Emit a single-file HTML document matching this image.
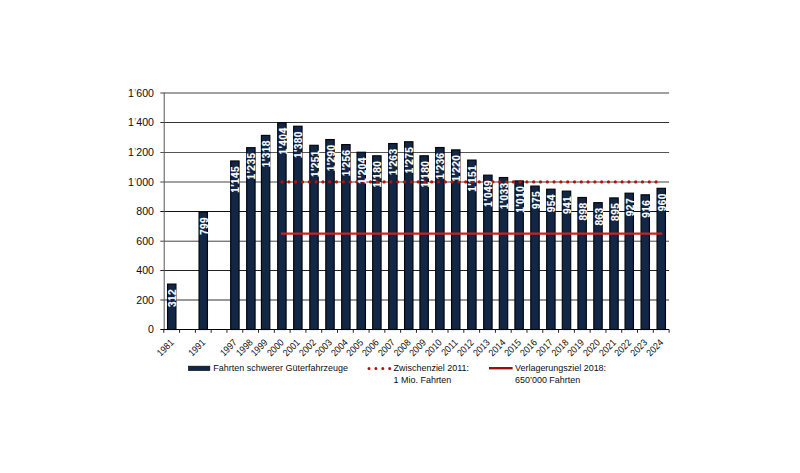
<!DOCTYPE html><html><head><meta charset="utf-8"><title>Fahrten schwerer Güterfahrzeuge</title><style>html,body{margin:0;padding:0;background:#fff;overflow:hidden;}svg{display:block;}text{font-family:"Liberation Sans",Arial,sans-serif;}</style></head><body>
<svg width="800" height="473" viewBox="0 0 800 473">
<rect width="800" height="473" fill="#fff"/>
<line x1="160.3" y1="300.00" x2="669.10" y2="300.00" stroke="#333" stroke-width="1"/>
<line x1="160.3" y1="270.50" x2="669.10" y2="270.50" stroke="#222" stroke-width="1"/>
<line x1="160.3" y1="241.20" x2="669.10" y2="241.20" stroke="#444" stroke-width="1"/>
<line x1="160.3" y1="211.50" x2="669.10" y2="211.50" stroke="#111" stroke-width="1"/>
<line x1="160.3" y1="182.00" x2="669.10" y2="182.00" stroke="#444" stroke-width="1"/>
<line x1="160.3" y1="152.50" x2="669.10" y2="152.50" stroke="#555" stroke-width="1"/>
<line x1="160.3" y1="122.50" x2="669.10" y2="122.50" stroke="#333" stroke-width="1"/>
<line x1="160.3" y1="93.00" x2="669.10" y2="93.00" stroke="#444" stroke-width="1"/>
<text x="154" y="333.10" font-size="10.6" text-anchor="end" fill="#0d0d0d">0</text>
<text x="154" y="303.60" font-size="10.6" text-anchor="end" fill="#0d0d0d">200</text>
<text x="154" y="274.10" font-size="10.6" text-anchor="end" fill="#0d0d0d">400</text>
<text x="154" y="244.80" font-size="10.6" text-anchor="end" fill="#0d0d0d">600</text>
<text x="154" y="215.10" font-size="10.6" text-anchor="end" fill="#0d0d0d">800</text>
<text x="154" y="185.60" font-size="10.6" text-anchor="end" fill="#0d0d0d">1<tspan fill="#8a8a8a">’</tspan>000</text>
<text x="154" y="156.10" font-size="10.6" text-anchor="end" fill="#0d0d0d">1<tspan fill="#8a8a8a">’</tspan>200</text>
<text x="154" y="126.10" font-size="10.6" text-anchor="end" fill="#0d0d0d">1<tspan fill="#8a8a8a">’</tspan>400</text>
<text x="154" y="96.60" font-size="10.6" text-anchor="end" fill="#0d0d0d">1<tspan fill="#8a8a8a">’</tspan>600</text>
<rect x="167.55" y="284.09" width="8.4" height="45.41" fill="#122646" stroke="#020408" stroke-width="1.15"/>
<rect x="199.05" y="212.11" width="8.4" height="117.39" fill="#122646" stroke="#020408" stroke-width="1.15"/>
<rect x="230.68" y="160.97" width="8.4" height="168.53" fill="#122646" stroke="#020408" stroke-width="1.15"/>
<rect x="246.68" y="147.67" width="8.4" height="181.83" fill="#122646" stroke="#020408" stroke-width="1.15"/>
<rect x="261.43" y="135.40" width="8.4" height="194.10" fill="#122646" stroke="#020408" stroke-width="1.15"/>
<rect x="277.70" y="122.69" width="8.4" height="206.81" fill="#122646" stroke="#020408" stroke-width="1.15"/>
<rect x="293.65" y="126.24" width="8.4" height="203.26" fill="#122646" stroke="#020408" stroke-width="1.15"/>
<rect x="309.80" y="145.30" width="8.4" height="184.20" fill="#122646" stroke="#020408" stroke-width="1.15"/>
<rect x="325.80" y="139.54" width="8.4" height="189.96" fill="#122646" stroke="#020408" stroke-width="1.15"/>
<rect x="341.68" y="144.56" width="8.4" height="184.94" fill="#122646" stroke="#020408" stroke-width="1.15"/>
<rect x="357.05" y="152.25" width="8.4" height="177.25" fill="#122646" stroke="#020408" stroke-width="1.15"/>
<rect x="372.68" y="155.80" width="8.4" height="173.70" fill="#122646" stroke="#020408" stroke-width="1.15"/>
<rect x="388.68" y="143.53" width="8.4" height="185.97" fill="#122646" stroke="#020408" stroke-width="1.15"/>
<rect x="404.55" y="141.75" width="8.4" height="187.75" fill="#122646" stroke="#020408" stroke-width="1.15"/>
<rect x="419.93" y="155.80" width="8.4" height="173.70" fill="#122646" stroke="#020408" stroke-width="1.15"/>
<rect x="435.68" y="147.52" width="8.4" height="181.98" fill="#122646" stroke="#020408" stroke-width="1.15"/>
<rect x="451.55" y="149.88" width="8.4" height="179.62" fill="#122646" stroke="#020408" stroke-width="1.15"/>
<rect x="467.68" y="160.08" width="8.4" height="169.42" fill="#122646" stroke="#020408" stroke-width="1.15"/>
<rect x="483.68" y="175.16" width="8.4" height="154.34" fill="#122646" stroke="#020408" stroke-width="1.15"/>
<rect x="499.30" y="177.52" width="8.4" height="151.98" fill="#122646" stroke="#020408" stroke-width="1.15"/>
<rect x="514.92" y="180.92" width="8.4" height="148.58" fill="#122646" stroke="#020408" stroke-width="1.15"/>
<rect x="530.80" y="186.09" width="8.4" height="143.41" fill="#122646" stroke="#020408" stroke-width="1.15"/>
<rect x="546.67" y="189.20" width="8.4" height="140.30" fill="#122646" stroke="#020408" stroke-width="1.15"/>
<rect x="562.30" y="191.12" width="8.4" height="138.38" fill="#122646" stroke="#020408" stroke-width="1.15"/>
<rect x="577.92" y="197.48" width="8.4" height="132.02" fill="#122646" stroke="#020408" stroke-width="1.15"/>
<rect x="593.80" y="202.65" width="8.4" height="126.85" fill="#122646" stroke="#020408" stroke-width="1.15"/>
<rect x="609.80" y="197.92" width="8.4" height="131.58" fill="#122646" stroke="#020408" stroke-width="1.15"/>
<rect x="625.05" y="193.19" width="8.4" height="136.31" fill="#122646" stroke="#020408" stroke-width="1.15"/>
<rect x="641.05" y="194.82" width="8.4" height="134.68" fill="#122646" stroke="#020408" stroke-width="1.15"/>
<rect x="657.05" y="188.31" width="8.4" height="141.19" fill="#122646" stroke="#020408" stroke-width="1.15"/>
<line x1="280.90" y1="233.6" x2="662.25" y2="233.6" stroke="#c4261c" stroke-width="2.2"/>
<line x1="282.1" y1="181.9" x2="661.25" y2="181.9" stroke="#bb1008" stroke-width="3.2" stroke-dasharray="0 6.8" stroke-linecap="round"/>
<text transform="translate(176.35,288.99) rotate(-90)" font-size="10.2" font-weight="bold" letter-spacing="0.35" text-anchor="end" fill="#fff" stroke="#fff" stroke-width="0.12">312</text>
<text transform="translate(207.85,217.01) rotate(-90)" font-size="10.2" font-weight="bold" letter-spacing="0.35" text-anchor="end" fill="#fff" stroke="#fff" stroke-width="0.12">799</text>
<text transform="translate(239.47,165.87) rotate(-90)" font-size="10.2" font-weight="bold" letter-spacing="0.35" text-anchor="end" fill="#fff" stroke="#fff" stroke-width="0.12">1'145</text>
<text transform="translate(255.47,152.57) rotate(-90)" font-size="10.2" font-weight="bold" letter-spacing="0.35" text-anchor="end" fill="#fff" stroke="#fff" stroke-width="0.12">1'235</text>
<text transform="translate(270.23,140.30) rotate(-90)" font-size="10.2" font-weight="bold" letter-spacing="0.35" text-anchor="end" fill="#fff" stroke="#fff" stroke-width="0.12">1'318</text>
<text transform="translate(286.50,127.59) rotate(-90)" font-size="10.2" font-weight="bold" letter-spacing="0.35" text-anchor="end" fill="#fff" stroke="#fff" stroke-width="0.12">1'404</text>
<text transform="translate(302.45,131.14) rotate(-90)" font-size="10.2" font-weight="bold" letter-spacing="0.35" text-anchor="end" fill="#fff" stroke="#fff" stroke-width="0.12">1'380</text>
<text transform="translate(318.60,150.20) rotate(-90)" font-size="10.2" font-weight="bold" letter-spacing="0.35" text-anchor="end" fill="#fff" stroke="#fff" stroke-width="0.12">1'251</text>
<text transform="translate(334.60,144.44) rotate(-90)" font-size="10.2" font-weight="bold" letter-spacing="0.35" text-anchor="end" fill="#fff" stroke="#fff" stroke-width="0.12">1'290</text>
<text transform="translate(350.48,149.46) rotate(-90)" font-size="10.2" font-weight="bold" letter-spacing="0.35" text-anchor="end" fill="#fff" stroke="#fff" stroke-width="0.12">1'256</text>
<text transform="translate(365.85,157.15) rotate(-90)" font-size="10.2" font-weight="bold" letter-spacing="0.35" text-anchor="end" fill="#fff" stroke="#fff" stroke-width="0.12">1'204</text>
<text transform="translate(381.48,160.70) rotate(-90)" font-size="10.2" font-weight="bold" letter-spacing="0.35" text-anchor="end" fill="#fff" stroke="#fff" stroke-width="0.12">1'180</text>
<text transform="translate(397.48,148.43) rotate(-90)" font-size="10.2" font-weight="bold" letter-spacing="0.35" text-anchor="end" fill="#fff" stroke="#fff" stroke-width="0.12">1'263</text>
<text transform="translate(413.35,146.66) rotate(-90)" font-size="10.2" font-weight="bold" letter-spacing="0.35" text-anchor="end" fill="#fff" stroke="#fff" stroke-width="0.12">1'275</text>
<text transform="translate(428.73,160.70) rotate(-90)" font-size="10.2" font-weight="bold" letter-spacing="0.35" text-anchor="end" fill="#fff" stroke="#fff" stroke-width="0.12">1'180</text>
<text transform="translate(444.48,152.42) rotate(-90)" font-size="10.2" font-weight="bold" letter-spacing="0.35" text-anchor="end" fill="#fff" stroke="#fff" stroke-width="0.12">1'236</text>
<text transform="translate(460.35,154.78) rotate(-90)" font-size="10.2" font-weight="bold" letter-spacing="0.35" text-anchor="end" fill="#fff" stroke="#fff" stroke-width="0.12">1'220</text>
<text transform="translate(476.48,164.98) rotate(-90)" font-size="10.2" font-weight="bold" letter-spacing="0.35" text-anchor="end" fill="#fff" stroke="#fff" stroke-width="0.12">1'151</text>
<text transform="translate(492.48,180.06) rotate(-90)" font-size="10.2" font-weight="bold" letter-spacing="0.35" text-anchor="end" fill="#fff" stroke="#fff" stroke-width="0.12">1'049</text>
<text transform="translate(508.10,182.42) rotate(-90)" font-size="10.2" font-weight="bold" letter-spacing="0.35" text-anchor="end" fill="#fff" stroke="#fff" stroke-width="0.12">1'033</text>
<text transform="translate(523.73,185.82) rotate(-90)" font-size="10.2" font-weight="bold" letter-spacing="0.35" text-anchor="end" fill="#fff" stroke="#fff" stroke-width="0.12">1'010</text>
<text transform="translate(539.60,191.00) rotate(-90)" font-size="10.2" font-weight="bold" letter-spacing="0.35" text-anchor="end" fill="#fff" stroke="#fff" stroke-width="0.12">975</text>
<text transform="translate(555.48,194.10) rotate(-90)" font-size="10.2" font-weight="bold" letter-spacing="0.35" text-anchor="end" fill="#fff" stroke="#fff" stroke-width="0.12">954</text>
<text transform="translate(571.10,196.02) rotate(-90)" font-size="10.2" font-weight="bold" letter-spacing="0.35" text-anchor="end" fill="#fff" stroke="#fff" stroke-width="0.12">941</text>
<text transform="translate(586.73,202.38) rotate(-90)" font-size="10.2" font-weight="bold" letter-spacing="0.35" text-anchor="end" fill="#fff" stroke="#fff" stroke-width="0.12">898</text>
<text transform="translate(602.60,207.55) rotate(-90)" font-size="10.2" font-weight="bold" letter-spacing="0.35" text-anchor="end" fill="#fff" stroke="#fff" stroke-width="0.12">863</text>
<text transform="translate(618.60,202.82) rotate(-90)" font-size="10.2" font-weight="bold" letter-spacing="0.35" text-anchor="end" fill="#fff" stroke="#fff" stroke-width="0.12">895</text>
<text transform="translate(633.85,198.09) rotate(-90)" font-size="10.2" font-weight="bold" letter-spacing="0.35" text-anchor="end" fill="#fff" stroke="#fff" stroke-width="0.12">927</text>
<text transform="translate(649.85,199.72) rotate(-90)" font-size="10.2" font-weight="bold" letter-spacing="0.35" text-anchor="end" fill="#fff" stroke="#fff" stroke-width="0.12">916</text>
<text transform="translate(665.85,193.21) rotate(-90)" font-size="10.2" font-weight="bold" letter-spacing="0.35" text-anchor="end" fill="#fff" stroke="#fff" stroke-width="0.12">960</text>
<line x1="164.2" y1="92.5" x2="164.2" y2="330.00" stroke="#555" stroke-width="1"/>
<line x1="160.3" y1="329.50" x2="669.10" y2="329.50" stroke="#000" stroke-width="1"/>
<line x1="163.80" y1="329.50" x2="163.80" y2="332.80" stroke="#222" stroke-width="1"/>
<line x1="179.59" y1="329.50" x2="179.59" y2="332.80" stroke="#222" stroke-width="1"/>
<line x1="195.38" y1="329.50" x2="195.38" y2="332.80" stroke="#222" stroke-width="1"/>
<line x1="211.17" y1="329.50" x2="211.17" y2="332.80" stroke="#222" stroke-width="1"/>
<line x1="226.96" y1="329.50" x2="226.96" y2="332.80" stroke="#222" stroke-width="1"/>
<line x1="242.75" y1="329.50" x2="242.75" y2="332.80" stroke="#222" stroke-width="1"/>
<line x1="258.54" y1="329.50" x2="258.54" y2="332.80" stroke="#222" stroke-width="1"/>
<line x1="274.33" y1="329.50" x2="274.33" y2="332.80" stroke="#222" stroke-width="1"/>
<line x1="290.12" y1="329.50" x2="290.12" y2="332.80" stroke="#222" stroke-width="1"/>
<line x1="305.92" y1="329.50" x2="305.92" y2="332.80" stroke="#222" stroke-width="1"/>
<line x1="321.71" y1="329.50" x2="321.71" y2="332.80" stroke="#222" stroke-width="1"/>
<line x1="337.50" y1="329.50" x2="337.50" y2="332.80" stroke="#222" stroke-width="1"/>
<line x1="353.29" y1="329.50" x2="353.29" y2="332.80" stroke="#222" stroke-width="1"/>
<line x1="369.08" y1="329.50" x2="369.08" y2="332.80" stroke="#222" stroke-width="1"/>
<line x1="384.87" y1="329.50" x2="384.87" y2="332.80" stroke="#222" stroke-width="1"/>
<line x1="400.66" y1="329.50" x2="400.66" y2="332.80" stroke="#222" stroke-width="1"/>
<line x1="416.45" y1="329.50" x2="416.45" y2="332.80" stroke="#222" stroke-width="1"/>
<line x1="432.24" y1="329.50" x2="432.24" y2="332.80" stroke="#222" stroke-width="1"/>
<line x1="448.03" y1="329.50" x2="448.03" y2="332.80" stroke="#222" stroke-width="1"/>
<line x1="463.82" y1="329.50" x2="463.82" y2="332.80" stroke="#222" stroke-width="1"/>
<line x1="479.61" y1="329.50" x2="479.61" y2="332.80" stroke="#222" stroke-width="1"/>
<line x1="495.40" y1="329.50" x2="495.40" y2="332.80" stroke="#222" stroke-width="1"/>
<line x1="511.19" y1="329.50" x2="511.19" y2="332.80" stroke="#222" stroke-width="1"/>
<line x1="526.98" y1="329.50" x2="526.98" y2="332.80" stroke="#222" stroke-width="1"/>
<line x1="542.78" y1="329.50" x2="542.78" y2="332.80" stroke="#222" stroke-width="1"/>
<line x1="558.57" y1="329.50" x2="558.57" y2="332.80" stroke="#222" stroke-width="1"/>
<line x1="574.36" y1="329.50" x2="574.36" y2="332.80" stroke="#222" stroke-width="1"/>
<line x1="590.15" y1="329.50" x2="590.15" y2="332.80" stroke="#222" stroke-width="1"/>
<line x1="605.94" y1="329.50" x2="605.94" y2="332.80" stroke="#222" stroke-width="1"/>
<line x1="621.73" y1="329.50" x2="621.73" y2="332.80" stroke="#222" stroke-width="1"/>
<line x1="637.52" y1="329.50" x2="637.52" y2="332.80" stroke="#222" stroke-width="1"/>
<line x1="653.31" y1="329.50" x2="653.31" y2="332.80" stroke="#222" stroke-width="1"/>
<line x1="669.10" y1="329.50" x2="669.10" y2="332.80" stroke="#222" stroke-width="1"/>
<text transform="translate(174.35,343.20) rotate(-45) scale(0.9,1)" font-size="9.6" text-anchor="end" fill="#0d0d0d">1981</text>
<text transform="translate(205.85,343.20) rotate(-45) scale(0.9,1)" font-size="9.6" text-anchor="end" fill="#0d0d0d">1991</text>
<text transform="translate(237.47,343.20) rotate(-45) scale(0.9,1)" font-size="9.6" text-anchor="end" fill="#0d0d0d">1997</text>
<text transform="translate(253.47,343.20) rotate(-45) scale(0.9,1)" font-size="9.6" text-anchor="end" fill="#0d0d0d">1998</text>
<text transform="translate(268.23,343.20) rotate(-45) scale(0.9,1)" font-size="9.6" text-anchor="end" fill="#0d0d0d">1999</text>
<text transform="translate(284.50,343.20) rotate(-45) scale(0.9,1)" font-size="9.6" text-anchor="end" fill="#0d0d0d">2000</text>
<text transform="translate(300.45,343.20) rotate(-45) scale(0.9,1)" font-size="9.6" text-anchor="end" fill="#0d0d0d">2001</text>
<text transform="translate(316.60,343.20) rotate(-45) scale(0.9,1)" font-size="9.6" text-anchor="end" fill="#0d0d0d">2002</text>
<text transform="translate(332.60,343.20) rotate(-45) scale(0.9,1)" font-size="9.6" text-anchor="end" fill="#0d0d0d">2003</text>
<text transform="translate(348.48,343.20) rotate(-45) scale(0.9,1)" font-size="9.6" text-anchor="end" fill="#0d0d0d">2004</text>
<text transform="translate(363.85,343.20) rotate(-45) scale(0.9,1)" font-size="9.6" text-anchor="end" fill="#0d0d0d">2005</text>
<text transform="translate(379.48,343.20) rotate(-45) scale(0.9,1)" font-size="9.6" text-anchor="end" fill="#0d0d0d">2006</text>
<text transform="translate(395.48,343.20) rotate(-45) scale(0.9,1)" font-size="9.6" text-anchor="end" fill="#0d0d0d">2007</text>
<text transform="translate(411.35,343.20) rotate(-45) scale(0.9,1)" font-size="9.6" text-anchor="end" fill="#0d0d0d">2008</text>
<text transform="translate(426.73,343.20) rotate(-45) scale(0.9,1)" font-size="9.6" text-anchor="end" fill="#0d0d0d">2009</text>
<text transform="translate(442.48,343.20) rotate(-45) scale(0.9,1)" font-size="9.6" text-anchor="end" fill="#0d0d0d">2010</text>
<text transform="translate(458.35,343.20) rotate(-45) scale(0.9,1)" font-size="9.6" text-anchor="end" fill="#0d0d0d">2011</text>
<text transform="translate(474.48,343.20) rotate(-45) scale(0.9,1)" font-size="9.6" text-anchor="end" fill="#0d0d0d">2012</text>
<text transform="translate(490.48,343.20) rotate(-45) scale(0.9,1)" font-size="9.6" text-anchor="end" fill="#0d0d0d">2013</text>
<text transform="translate(506.10,343.20) rotate(-45) scale(0.9,1)" font-size="9.6" text-anchor="end" fill="#0d0d0d">2014</text>
<text transform="translate(521.73,343.20) rotate(-45) scale(0.9,1)" font-size="9.6" text-anchor="end" fill="#0d0d0d">2015</text>
<text transform="translate(537.60,343.20) rotate(-45) scale(0.9,1)" font-size="9.6" text-anchor="end" fill="#0d0d0d">2016</text>
<text transform="translate(553.48,343.20) rotate(-45) scale(0.9,1)" font-size="9.6" text-anchor="end" fill="#0d0d0d">2017</text>
<text transform="translate(569.10,343.20) rotate(-45) scale(0.9,1)" font-size="9.6" text-anchor="end" fill="#0d0d0d">2018</text>
<text transform="translate(584.73,343.20) rotate(-45) scale(0.9,1)" font-size="9.6" text-anchor="end" fill="#0d0d0d">2019</text>
<text transform="translate(600.60,343.20) rotate(-45) scale(0.9,1)" font-size="9.6" text-anchor="end" fill="#0d0d0d">2020</text>
<text transform="translate(616.60,343.20) rotate(-45) scale(0.9,1)" font-size="9.6" text-anchor="end" fill="#0d0d0d">2021</text>
<text transform="translate(631.85,343.20) rotate(-45) scale(0.9,1)" font-size="9.6" text-anchor="end" fill="#0d0d0d">2022</text>
<text transform="translate(647.85,343.20) rotate(-45) scale(0.9,1)" font-size="9.6" text-anchor="end" fill="#0d0d0d">2023</text>
<text transform="translate(663.85,343.20) rotate(-45) scale(0.9,1)" font-size="9.6" text-anchor="end" fill="#0d0d0d">2024</text>
<rect x="188.6" y="366.2" width="21.2" height="4.2" fill="#122646" stroke="#020408" stroke-width="0.7"/>
<text x="213.3" y="371.2" font-size="8.97" fill="#0d0d0d">Fahrten schwerer Güterfahrzeuge</text>
<line x1="369" y1="368.4" x2="390" y2="368.4" stroke="#b40f0f" stroke-width="3" stroke-dasharray="0 6.9" stroke-linecap="round"/>
<text x="393.6" y="371.2" font-size="8.96" fill="#0d0d0d">Zwischenziel 2011:</text>
<text x="393.6" y="383.2" font-size="8.96" fill="#0d0d0d">1 Mio. Fahrten</text>
<line x1="489" y1="368.2" x2="512.6" y2="368.2" stroke="#9e0c0c" stroke-width="2.4"/>
<text x="515" y="371.2" font-size="8.96" fill="#0d0d0d">Verlagerungsziel 2018:</text>
<text x="515" y="383.2" font-size="8.96" fill="#0d0d0d">650’000 Fahrten</text>
</svg></body></html>
